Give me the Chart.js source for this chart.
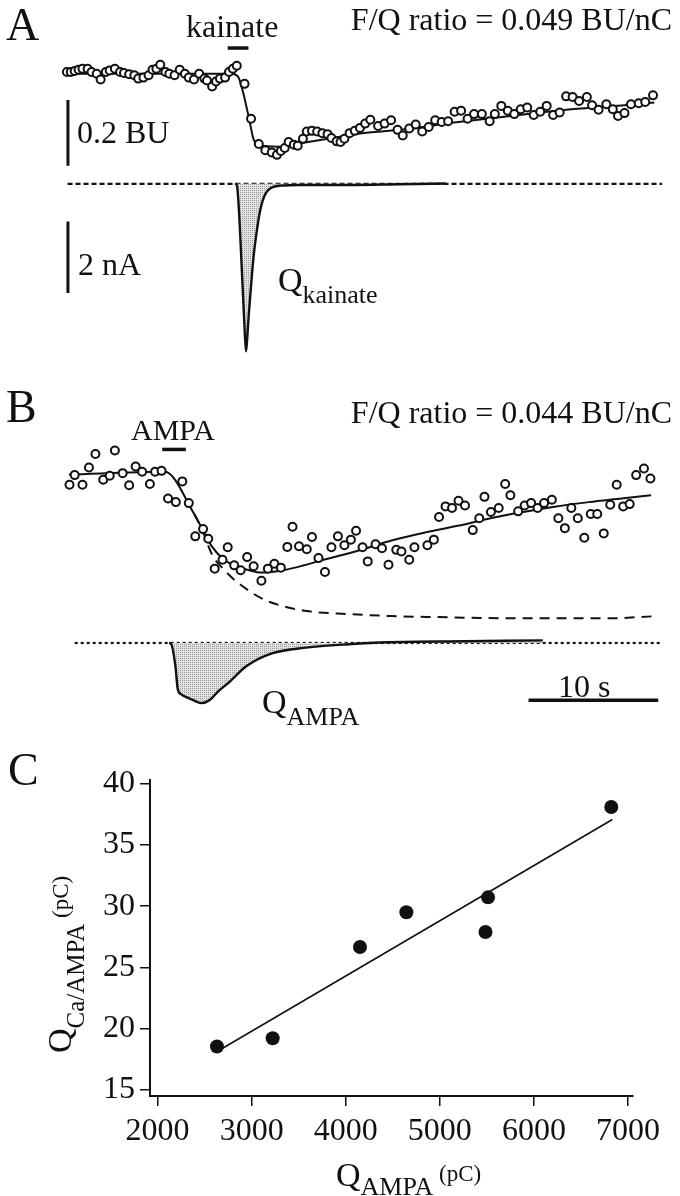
<!DOCTYPE html>
<html>
<head>
<meta charset="utf-8">
<script src="https://cdn.jsdelivr.net/npm/chart.js@4.4.1/dist/chart.umd.min.js"></script>
<style>
  html, body { margin: 0; padding: 0; background: #fff; }
  #wrap { position: relative; width: 680px; height: 1196px; overflow: hidden; }
  canvas { position: absolute; left: 0; }
</style>
</head>
<body>
<div id="wrap">
  <canvas id="panelA" width="680" height="360" style="top:0px"></canvas>
  <canvas id="panelB" width="680" height="380" style="top:360px"></canvas>
  <canvas id="panelC" width="680" height="476" style="top:720px"></canvas>
</div>
<script>
// ---- Panel A: kainate (time in s, fluorescence in BU, current in nA)
const timeA = [0.0, 0.3, 0.6, 0.9, 1.2, 1.6, 1.9, 2.3, 2.6, 3.0, 3.3, 3.7, 4.1, 4.4, 4.8, 5.2, 5.5, 5.9, 6.3, 6.6,
  6.9, 7.2, 7.6, 7.9, 8.3, 8.7, 9.1, 9.4, 9.8, 10.2, 10.6, 10.8, 11.2, 11.5, 11.8, 12.2, 12.5, 12.8, 13.1, 13.7,
  14.2, 14.8, 15.3, 15.8, 16.2, 16.5, 16.8, 17.1, 17.5, 17.8, 18.2, 18.5, 18.9, 19.3, 19.7, 20.1, 20.4, 20.8, 21.1, 21.4,
  21.8, 22.2, 22.6, 23.0, 23.4, 24.0, 24.5, 25.0, 25.5, 25.9, 26.4, 26.9, 27.4, 27.9, 28.4, 28.9, 29.4, 29.9, 30.4, 30.9,
  31.4, 32.0, 32.6, 33.0, 33.5, 34.0, 34.5, 35.0, 35.5, 36.0, 36.5, 37.0, 37.5, 38.0, 38.5, 39.0, 39.5, 40.1, 40.5, 41.0,
  41.6, 42.1, 42.5, 43.0, 43.5, 44.1, 44.6, 45.2];
const dffA = [0.005, 0.005, 0.008, 0.012, 0.015, 0.015, 0.005, 0.000, -0.018, 0.005, 0.010, 0.015, 0.005, 0.002, -0.002, -0.005, -0.015, -0.012, -0.005, 0.012,
  0.015, 0.027, 0.005, 0.000, -0.005, 0.012, 0.000, -0.012, -0.018, 0.000, -0.015, -0.021, -0.039, -0.024, -0.015, -0.012, 0.005, 0.015, 0.024, -0.031,
  -0.137, -0.214, -0.233, -0.240, -0.247, -0.235, -0.226, -0.208, -0.216, -0.219, -0.198, -0.176, -0.174, -0.176, -0.181, -0.184, -0.196, -0.206, -0.208, -0.198,
  -0.181, -0.174, -0.165, -0.152, -0.140, -0.159, -0.152, -0.142, -0.171, -0.188, -0.167, -0.155, -0.176, -0.162, -0.142, -0.147, -0.145, -0.116, -0.113, -0.137,
  -0.123, -0.123, -0.145, -0.123, -0.098, -0.113, -0.123, -0.108, -0.103, -0.126, -0.116, -0.098, -0.126, -0.118, -0.069, -0.071, -0.083, -0.071, -0.096, -0.110,
  -0.093, -0.108, -0.129, -0.120, -0.093, -0.090, -0.086, -0.066];
const fitTimeA = [0, 12.7, 13.2, 13.6, 14.1, 14.4, 14.8, 15.5, 16.5, 18.0, 20.3, 22.6, 25.6, 30.2, 35.2, 38.7, 42.8, 45.3];
const fitA = [0, 0, -0.009, -0.059, -0.147, -0.200, -0.215, -0.221, -0.222, -0.212, -0.197, -0.182, -0.171, -0.147, -0.124, -0.109, -0.097, -0.088];
const currTimeA = [12.95, 13.1, 13.23, 13.48, 13.69, 13.81, 13.9, 14.02, 14.2, 14.39, 14.62, 14.85, 15.08, 15.38, 15.76, 16.5, 18.0, 21.8, 25.6, 29.2];
const currA = [0, -0.03, -0.51, -2.32, -3.95, -4.68, -4.35, -3.68, -2.86, -2.05, -1.38, -0.84, -0.49, -0.24, -0.11, -0.05, -0.03, -0.03, -0.01, 0.01];
const baseTimeA = [0.05, 45.9];
const kainateOn = [12.4, 14.0];

// ---- Panel B: AMPA
const timeB = [0.2, 0.6, 1.2, 1.7, 2.2, 2.8, 3.3, 3.7, 4.3, 4.8, 5.3, 5.8, 6.4, 6.8, 7.3, 7.8, 8.4, 8.9, 9.4, 9.9,
  10.5, 10.9, 11.4, 12.0, 12.4, 12.9, 13.4, 13.9, 14.4, 15.0, 15.5, 16.0, 16.5, 17.0, 17.4, 17.9, 18.5, 18.9, 19.4, 19.9,
  20.4, 20.9, 21.4, 21.9, 22.3, 22.8, 23.2, 23.8, 24.3, 24.8, 25.4, 25.8, 26.4, 26.8, 27.8, 28.3, 28.7, 29.2, 29.7, 30.2,
  30.7, 31.3, 31.8, 32.2, 32.7, 33.3, 33.8, 34.2, 34.8, 35.3, 35.8, 36.3, 36.8, 37.4, 37.9, 38.4, 38.9, 39.4, 39.9, 40.4,
  40.9, 41.4, 41.9, 42.4, 42.9, 43.4, 43.9, 44.5, 45.0];
const dffB = [-0.031, -0.002, -0.031, 0.021, 0.062, -0.016, -0.004, 0.073, 0.004, -0.033, 0.024, 0.008, -0.029, 0.008, 0.011, -0.073, -0.084, -0.021, -0.087, -0.188,
  -0.166, -0.195, -0.286, -0.259, -0.221, -0.276, -0.291, -0.251, -0.279, -0.323, -0.286, -0.271, -0.283, -0.220, -0.159, -0.218, -0.227, -0.190, -0.254, -0.296,
  -0.221, -0.188, -0.215, -0.198, -0.171, -0.221, -0.264, -0.212, -0.224, -0.274, -0.229, -0.234, -0.259, -0.221, -0.215, -0.198, -0.129, -0.097, -0.102, -0.080,
  -0.094, -0.169, -0.133, -0.068, -0.114, -0.102, -0.029, -0.063, -0.112, -0.094, -0.087, -0.102, -0.087, -0.077, -0.133, -0.163, -0.102, -0.133, -0.192, -0.120,
  -0.120, -0.179, -0.092, -0.031, -0.097, -0.090, -0.002, 0.018, -0.012];
const fitTimeB = [0.15, 7.55, 9.83, 10.45, 11.21, 11.97, 12.86, 13.99, 15.0, 16.77, 18.28, 19.8, 21.31, 22.83, 25.1, 27.63, 30.15, 32.67, 35.2, 37.73, 40.25, 42.78, 45.05];
const fitB = [0, 0.008, -0.121, -0.166, -0.220, -0.254, -0.276, -0.290, -0.298, -0.290, -0.276, -0.259, -0.244, -0.227, -0.200, -0.176, -0.156, -0.133, -0.114, -0.097, -0.084, -0.073, -0.063];
const expTimeB = [9.83, 10.45, 11.21, 11.97, 12.86, 13.99, 15.25, 16.77, 18.5, 21.74, 25.0, 28.4, 35.0, 41.6, 45.6];
const expB = [-0.121, -0.170, -0.245, -0.283, -0.318, -0.352, -0.381, -0.401, -0.415, -0.424, -0.430, -0.433, -0.437, -0.437, -0.430];
const currTimeB = [7.88, 8.03, 8.37, 8.54, 8.79, 9.2, 9.7, 10.36, 11.02, 11.67, 12.5, 13.83, 15.81, 18.46, 21.74, 24.8, 30.7, 36.7];
const currB = [0, -0.02, -0.65, -1.27, -1.43, -1.51, -1.59, -1.68, -1.59, -1.35, -1.10, -0.65, -0.29, -0.13, -0.035, 0.02, 0.046, 0.073];
const baseTimeB = [0.6, 45.8];
const ampaOn = [7.35, 9.17];
const timeBar = [35.6, 45.6];

// scale bars
const barBU = [-0.08, -0.28];
const barNA = [-1.05, -3.05];

// ---- Panel C: Q_Ca/AMPA vs Q_AMPA
const qAmpa = [2631, 3223, 4151, 4644, 5485, 5512, 6822];
const qCaAmpa = [18.54, 19.22, 26.66, 29.50, 27.89, 30.72, 38.1];
const regX = [2691, 6834];
const regY = [18.4, 37.07];
const xTicksC = [2000, 3000, 4000, 5000, 6000, 7000];
const yTicksC = [15, 20, 25, 30, 35, 40];

const SERIF = '"Liberation Serif", "Times New Roman", Times, serif';
const INK = '#111';
Chart.defaults.font.family = SERIF;
Chart.defaults.color = INK;

const pts = (xs, ys) => xs.map((x, i) => ({ x, y: ys[i] }));

// axis range so that value 0 sits at pixel `origin`, with `perUnit` px per unit
function spanY(origin, perUnit, size) {
  return { min: -(size - origin) / perUnit, max: origin / perUnit };
}
function spanX(origin, perUnit, size) {
  return { min: -origin / perUnit, max: (size - origin) / perUnit };
}

function stipple(ctx) {
  const c = document.createElement('canvas');
  c.width = 2; c.height = 2;
  const g = c.getContext('2d');
  g.fillStyle = '#e2e2e2';
  g.fillRect(0, 0, 2, 2);
  g.fillStyle = '#999';
  g.fillRect(0, 0, 1, 1);
  return ctx.createPattern(c, 'repeat');
}

function drawRich(ctx, x, y, parts, align) {
  let w = 0;
  for (const p of parts) {
    ctx.font = `${p.size}px ${SERIF}`;
    w += ctx.measureText(p.text).width;
  }
  let cx = align === 'right' ? x - w : x;
  for (const p of parts) {
    ctx.font = `${p.size}px ${SERIF}`;
    ctx.fillText(p.text, cx, y + (p.dy || 0));
    cx += ctx.measureText(p.text).width;
  }
}

function textPlugin(items) {
  return {
    id: 'panelText',
    afterDraw(chart) {
      const ctx = chart.ctx;
      ctx.save();
      ctx.fillStyle = INK;
      ctx.textBaseline = 'alphabetic';
      for (const it of items) {
        if (it.rotate) {
          ctx.save();
          ctx.translate(it.x, it.y);
          ctx.rotate(-Math.PI / 2);
          drawRich(ctx, 0, 0, it.parts);
          ctx.restore();
        } else {
          drawRich(ctx, it.x, it.y, it.parts, it.align);
        }
      }
      ctx.restore();
    }
  };
}

const circles = (data) => ({
  data, yAxisID: 'yF', showLine: false, order: 0,
  pointRadius: 4, pointBorderWidth: 2,
  pointBackgroundColor: '#fff', pointBorderColor: INK
});
const line = (data, axis, extra) => Object.assign({
  data, yAxisID: axis, showLine: true, pointRadius: 0,
  borderColor: INK, borderWidth: 2, fill: false, order: 1
}, extra || {});

const baseOptions = (xr, fr, ir) => ({
  responsive: false,
  animation: false,
  events: [],
  layout: { padding: 0 },
  plugins: { legend: { display: false }, tooltip: { enabled: false } },
  scales: {
    x: { type: 'linear', display: false, min: xr.min, max: xr.max },
    yF: { type: 'linear', display: false, min: fr.min, max: fr.max },
    yI: { type: 'linear', display: false, min: ir.min, max: ir.max }
  }
});

// ---- Panel A
const cA = document.getElementById('panelA');
const ctxA = cA.getContext('2d');
new Chart(ctxA, {
  type: 'scatter',
  data: {
    datasets: [
      circles(pts(timeA, dffA)),
      line(pts(fitTimeA, fitA), 'yF', { cubicInterpolationMode: 'monotone' }),
      line(pts(currTimeA, currA), 'yI', {
        borderWidth: 2.4, cubicInterpolationMode: 'monotone', order: 2,
        fill: { value: 0 }, backgroundColor: stipple(ctxA)
      }),
      line(pts(baseTimeA, [0, 0]), 'yI', { borderDash: [5, 3], borderWidth: 2.2, order: 3 }),
      line([{ x: 0.08, y: barBU[0] }, { x: 0.08, y: barBU[1] }], 'yF', { borderWidth: 3 }),
      line([{ x: 0.08, y: barNA[0] }, { x: 0.08, y: barNA[1] }], 'yI', { borderWidth: 3 }),
      line([{ x: kainateOn[0], y: 0.078 }, { x: kainateOn[1], y: 0.078 }], 'yF', { borderWidth: 3.5 })
    ]
  },
  options: baseOptions(spanX(62, 13.2, 680), spanY(70, 340, 360), spanY(184, 37, 360)),
  plugins: [textPlugin([
    { x: 6, y: 40, parts: [{ text: 'A', size: 46 }] },
    { x: 186, y: 37, parts: [{ text: 'kainate', size: 32 }] },
    { x: 672, y: 30, align: 'right', parts: [{ text: 'F/Q ratio = 0.049 BU/nC', size: 32 }] },
    { x: 77, y: 143, parts: [{ text: '0.2 BU', size: 32 }] },
    { x: 78, y: 275, parts: [{ text: '2 nA', size: 32 }] },
    { x: 278, y: 291, parts: [{ text: 'Q', size: 34 }, { text: 'kainate', size: 26, dy: 12 }] }
  ])]
});

// ---- Panel B
const cB = document.getElementById('panelB');
const ctxB = cB.getContext('2d');
new Chart(ctxB, {
  type: 'scatter',
  data: {
    datasets: [
      circles(pts(timeB, dffB)),
      line(pts(fitTimeB, fitB), 'yF', { cubicInterpolationMode: 'monotone' }),
      line(pts(expTimeB, expB), 'yF', { borderDash: [10, 7], cubicInterpolationMode: 'monotone', order: 2 }),
      line(pts(currTimeB, currB), 'yI', {
        borderWidth: 2.4, cubicInterpolationMode: 'monotone', order: 2,
        fill: { value: 0 }, backgroundColor: stipple(ctxB)
      }),
      line(pts(baseTimeB, [0, 0]), 'yI', { borderDash: [3, 3], borderWidth: 2.2, order: 3 }),
      line([{ x: ampaOn[0], y: 0.076 }, { x: ampaOn[1], y: 0.076 }], 'yF', { borderWidth: 3.5 }),
      line([{ x: timeBar[0], y: -1.6 }, { x: timeBar[1], y: -1.6 }], 'yI', { borderWidth: 3.5 })
    ]
  },
  options: baseOptions(spanX(62, 13.2, 680), spanY(112, 340, 380), spanY(286, 37, 380)),
  plugins: [textPlugin([
    { x: 6, y: 62, parts: [{ text: 'B', size: 46 }] },
    { x: 131, y: 80, parts: [{ text: 'AMPA', size: 30 }] },
    { x: 672, y: 63, align: 'right', parts: [{ text: 'F/Q ratio = 0.044 BU/nC', size: 32 }] },
    { x: 262, y: 353, parts: [{ text: 'Q', size: 34 }, { text: 'AMPA', size: 26, dy: 12 }] },
    { x: 558, y: 337, parts: [{ text: '10 s', size: 32 }] }
  ])]
});

// ---- Panel C
const axisStyle = {
  grid: { display: true, drawOnChartArea: false, drawTicks: true, tickLength: 10, color: INK, lineWidth: 1.5 },
  border: { display: true, color: INK, width: 2 }
};
new Chart(document.getElementById('panelC'), {
  type: 'scatter',
  data: {
    datasets: [
      {
        data: pts(qAmpa, qCaAmpa), pointRadius: 7, pointBorderWidth: 0,
        pointBackgroundColor: INK, showLine: false, order: 0
      },
      { data: pts(regX, regY), showLine: true, pointRadius: 0, borderColor: INK, borderWidth: 1.6, order: 1 }
    ]
  },
  options: {
    responsive: false,
    animation: false,
    events: [],
    layout: { padding: { top: 60, right: 47, bottom: 0, left: 0 } },
    plugins: { legend: { display: false }, tooltip: { enabled: false } },
    scales: {
      x: Object.assign({
        type: 'linear', position: 'bottom', min: 1919, max: 7053,
        afterBuildTicks: s => { s.ticks = xTicksC.map(v => ({ value: v })); },
        afterFit: s => { s.height = 100; },
        ticks: { font: { size: 32 }, color: INK, padding: 6, maxRotation: 0, callback: v => String(v) }
      }, axisStyle),
      y: Object.assign({
        type: 'linear', position: 'left', min: 14.5, max: 40.3,
        afterBuildTicks: s => { s.ticks = yTicksC.map(v => ({ value: v })); },
        afterFit: s => { s.width = 150; },
        ticks: { font: { size: 32 }, color: INK, padding: 5, callback: v => String(v) }
      }, axisStyle)
    }
  },
  plugins: [textPlugin([
    { x: 8, y: 65, parts: [{ text: 'C', size: 46 }] },
    { x: 336, y: 466, parts: [{ text: 'Q', size: 34 }, { text: 'AMPA', size: 26, dy: 9 }, { text: ' (pC)', size: 23, dy: -5 }] },
    { x: 71, y: 333, rotate: true, parts: [{ text: 'Q', size: 34 }, { text: 'Ca/AMPA', size: 25, dy: 13 }, { text: ' (pC)', size: 23, dy: -3 }] }
  ])]
});
</script>
</body>
</html>
